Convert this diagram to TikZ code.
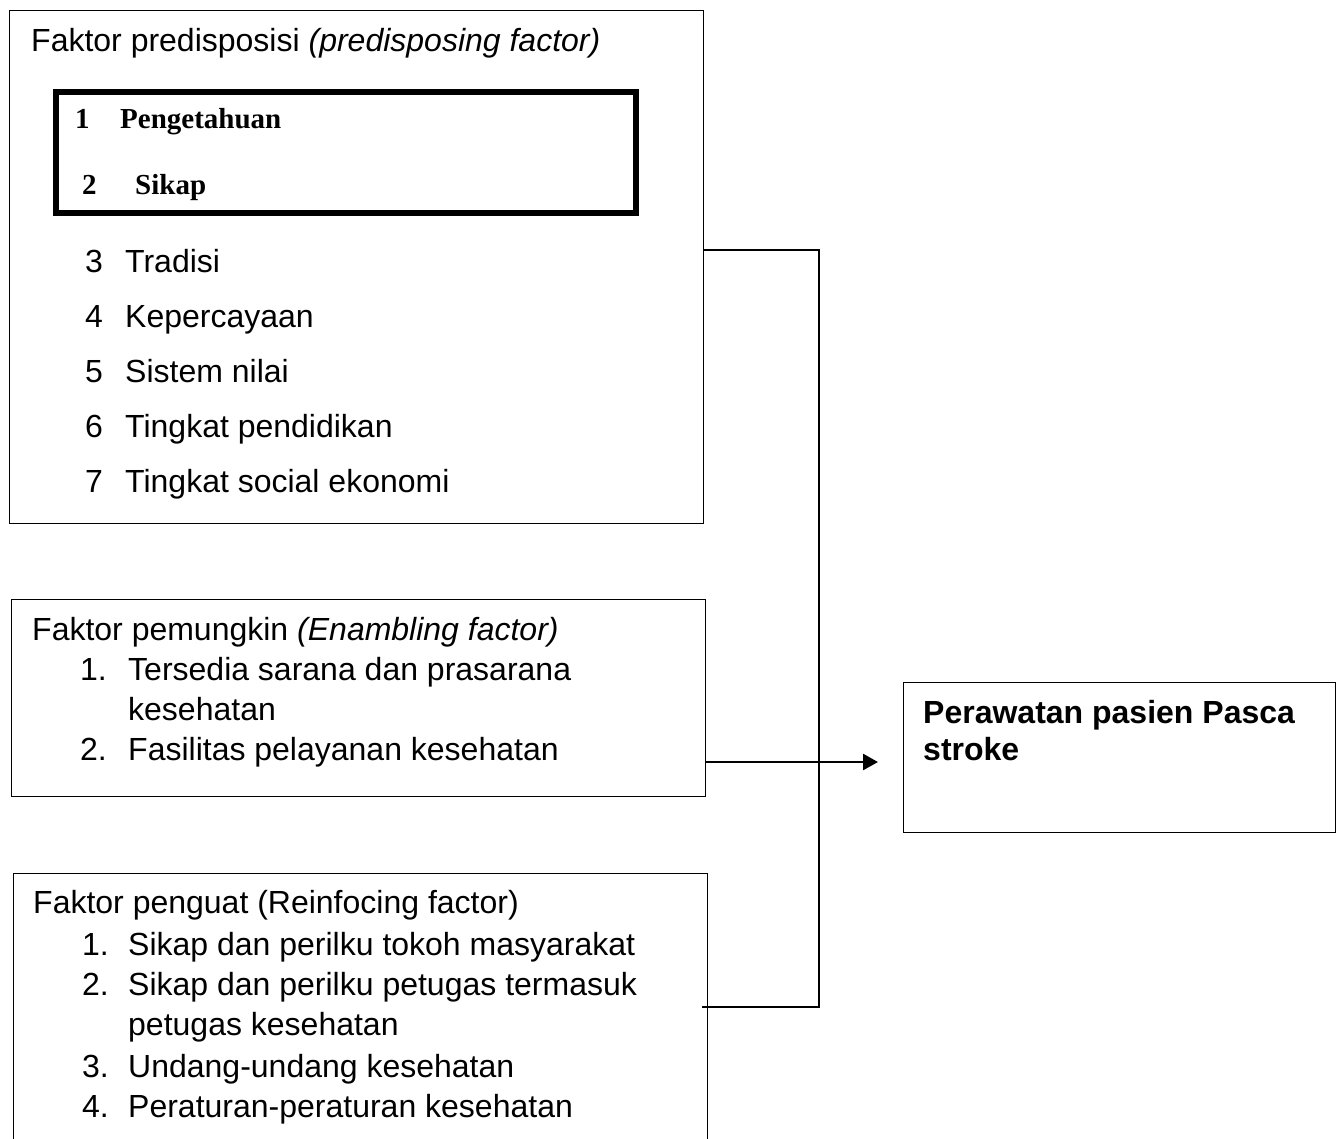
\documentclass[tikz,border=0pt]{standalone}
\usepackage{fontspec}
\setmainfont{Liberation Sans}
\newfontfamily\serifface{Liberation Serif}
\usetikzlibrary{arrows.meta}
\begin{document}
\begin{tikzpicture}[x=1pt, y=-1pt,
  box/.style={draw=black, line width=1.4pt, inner sep=0pt, anchor=north west},
  thickbox/.style={draw=black, line width=6pt, inner sep=0pt, anchor=north west},
  txt/.style={anchor=base west, inner sep=0pt, font=\fontsize{32}{38}\selectfont},
  btxt/.style={anchor=base west, inner sep=0pt, font=\fontsize{32}{38}\selectfont\bfseries},
  stxt/.style={anchor=base west, inner sep=0pt, font=\fontsize{29}{34}\selectfont\serifface\bfseries},
  link/.style={draw=black, line width=1.4pt},
  arrowlink/.style={draw=black, line width=2.6pt, -{Triangle[length=15pt,width=16pt]}}
]
\path[use as bounding box, clip] (0,0) rectangle (1337,1138);

% boxes
\node[box, minimum width=694pt, minimum height=513pt] (pre) at (9,10) {};
\node[thickbox, minimum width=580pt, minimum height=121pt] (inner) at (53,89) {};
\node[box, minimum width=694pt, minimum height=197pt] (enab) at (11,599) {};
\node[box, minimum width=694pt, minimum height=300pt] (reinf) at (13,873) {};
\node[box, minimum width=432pt, minimum height=150pt] (out) at (903,682) {};

% predisposing texts
\node[txt] (t0) at (31,51) {Faktor predisposisi \textit{(predisposing factor)}};
\node[stxt] (n1) at (75,128) {1};
\node[stxt] (i1) at (120,128) {Pengetahuan};
\node[stxt] (n2) at (82,194) {2};
\node[stxt] (i2) at (135,194) {Sikap};
\node[txt] (n3) at (85,272) {3};
\node[txt] (i3) at (125,272) {Tradisi};
\node[txt] (n4) at (85,327) {4};
\node[txt] (i4) at (125,327) {Kepercayaan};
\node[txt] (n5) at (85,382) {5};
\node[txt] (i5) at (125,382) {Sistem nilai};
\node[txt] (n6) at (85,437) {6};
\node[txt] (i6) at (125,437) {Tingkat pendidikan};
\node[txt] (n7) at (85,492) {7};
\node[txt] (i7) at (125,492) {Tingkat social ekonomi};

% enabling texts
\node[txt] (e0) at (32,640) {Faktor pemungkin \textit{(Enambling factor)}};
\node[txt] (en1) at (80,680) {1.};
\node[txt] (ei1) at (128,680) {Tersedia sarana dan prasarana};
\node[txt] (ei1b) at (128,720) {kesehatan};
\node[txt] (en2) at (80,760) {2.};
\node[txt] (ei2) at (128,760) {Fasilitas pelayanan kesehatan};

% reinforcing texts
\node[txt] (r0) at (33,913) {Faktor penguat (Reinfocing factor)};
\node[txt] (rn1) at (82,955) {1.};
\node[txt] (ri1) at (128,955) {Sikap dan perilku tokoh masyarakat};
\node[txt] (rn2) at (82,995) {2.};
\node[txt] (ri2) at (128,995) {Sikap dan perilku petugas termasuk};
\node[txt] (ri2b) at (128,1035) {petugas kesehatan};
\node[txt] (rn3) at (82,1077) {3.};
\node[txt] (ri3) at (128,1077) {Undang-undang kesehatan};
\node[txt] (rn4) at (82,1117) {4.};
\node[txt] (ri4) at (128,1117) {Peraturan-peraturan kesehatan};

% outcome text
\node[btxt] (o1) at (923,723) {Perawatan pasien Pasca};
\node[btxt] (o2) at (923,760) {stroke};

% connectors
\coordinate (j1) at (819,250);
\coordinate (j2) at (819,1007);
\coordinate (tip) at (878,762);
\draw[link] (pre.east |- j1) -- (j1) -- (j2) -- (702,1007);
\draw[arrowlink] (enab.east |- tip) -- (tip);
\end{tikzpicture}
\end{document}
